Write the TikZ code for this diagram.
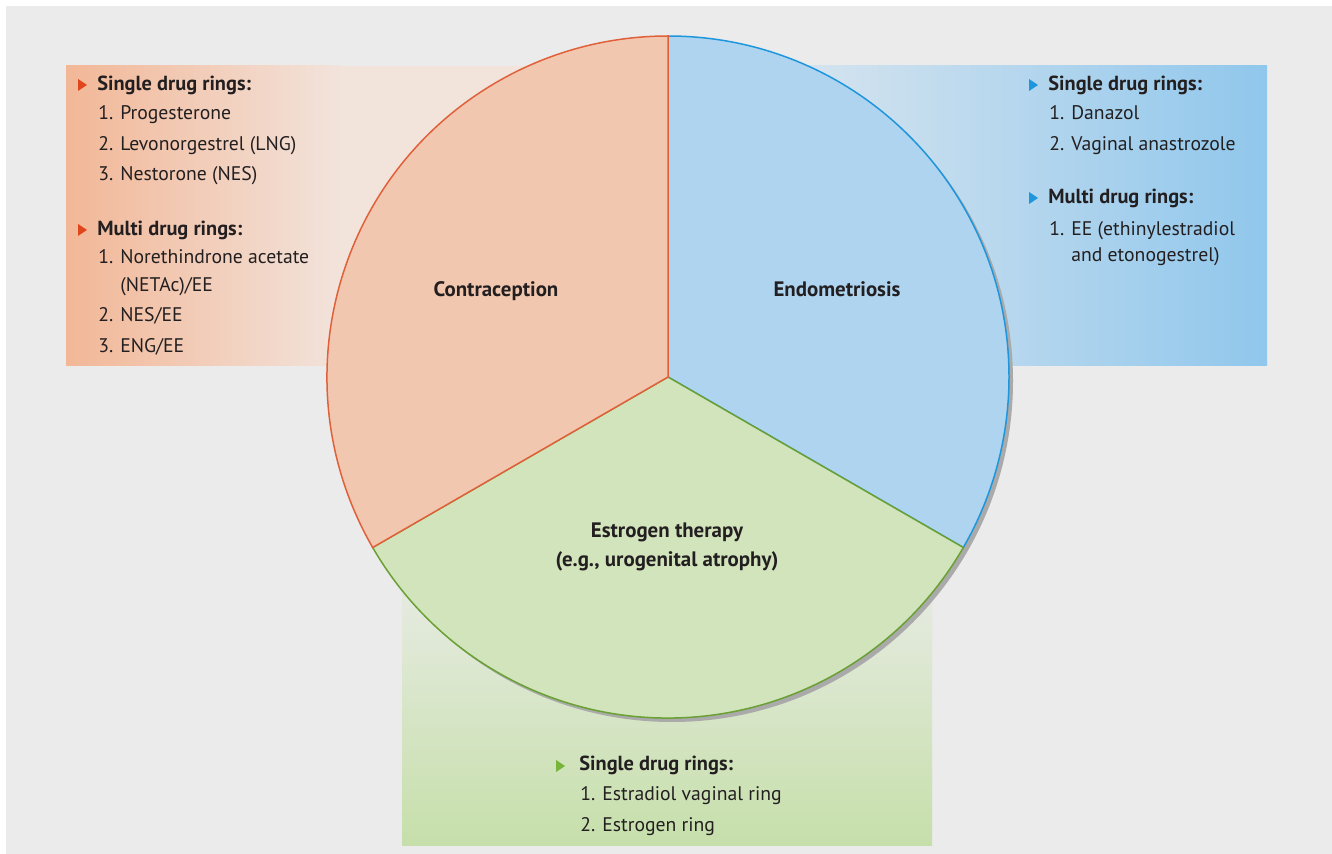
\documentclass[tikz,border=0pt]{standalone}
\usepackage{fontspec}
\setmainfont{PT Sans}
\usetikzlibrary{calc}
\definecolor{bggray}{HTML}{EAEBEA}
\definecolor{txt}{HTML}{231F20}
\definecolor{confill}{HTML}{F2C7B0}
\definecolor{conline}{HTML}{E0603A}
\definecolor{endfill}{HTML}{AED4F0}
\definecolor{endline}{HTML}{1E96DC}
\definecolor{estfill}{HTML}{D2E4BC}
\definecolor{estline}{HTML}{6AA034}
\definecolor{conbox}{HTML}{F2B797}
\definecolor{conlight}{HTML}{F2E3DB}
\definecolor{endbox}{HTML}{90C7EC}
\definecolor{endlight}{HTML}{D6E4EF}
\definecolor{estbox}{HTML}{C6DFAA}
\definecolor{estlight}{HTML}{E7EBE3}
\definecolor{conmark}{HTML}{E0461C}
\definecolor{endmark}{HTML}{1E96DC}
\definecolor{estmark}{HTML}{76B43A}
\definecolor{shadowgray}{HTML}{A9AAA9}
\tikzset{
  head/.style={anchor=base west,inner sep=0,text=txt,font=\bfseries\fontsize{11.6}{13}\selectfont},
  item/.style={anchor=base west,inner sep=0,text=txt,font=\fontsize{11.2}{13}\selectfont},
  label/.style={anchor=base,inner sep=0,text=txt,font=\bfseries\fontsize{11.9}{13}\selectfont},
}
\begin{document}
\begin{tikzpicture}[x=0.02cm,y=-0.02cm]
\useasboundingbox (0,0) rectangle (1332,854);
\fill[white] (0,0) rectangle (1332,854);
\fill[bggray] (6,6) rectangle (1332,854);
% side boxes
\fill[conlight] (66,66) rectangle (668,366);
\shade[left color=conbox,right color=conlight] (66,66) rectangle (340,366);
\fill[endlight] (668,66) rectangle (1267,366);
\shade[left color=endlight,right color=endbox] (800,66) rectangle (1267,366);
\fill[estlight] (402,377) rectangle (932,845);
\shade[top color=estlight,bottom color=estbox] (402,580) rectangle (932,845);
% pie
\coordinate (c) at (668,377);
\fill[shadowgray] ($(c)+(4,4)$) circle[radius=341];
\filldraw[fill=endfill,draw=endline,line width=0.85pt] (c) -- +(270:341) arc[start angle=270,end angle=390,radius=341] -- cycle;
\filldraw[fill=estfill,draw=estline,line width=0.85pt] (c) -- +(30:341) arc[start angle=30,end angle=150,radius=341] -- cycle;
\filldraw[fill=confill,draw=conline,line width=0.85pt] (c) -- +(150:341) arc[start angle=150,end angle=270,radius=341] -- cycle;
\node[label] (con) at (496,297) {Contraception};
\node[label] (endo) at (837,297) {Endometriosis};
\node[label] (est) at (667,538) {Estrogen therapy};
\node[label] (est2) at (667,566) {(e.g., urogenital atrophy)};
% markers
\foreach \x/\y/\c in {78/85/conmark,78/230/conmark,1029/85/endmark,1029/198/endmark,556/766/estmark}{
  \fill[\c] (\x,\y-6) -- (\x+9,\y) -- (\x,\y+6) -- cycle;}
% left lists
\node[head] (lsh) at (97,90.7) {Single drug rings:};
\foreach \n/\t/\y in {1/Progesterone/120,2/Levonorgestrel (LNG)/150.7,3/Nestorone (NES)/180.7}{
  \node[item] (lsn\n) at (98,\y) {\n.};
  \node[item] (lst\n) at (120,\y) {\t};}
\node[head] (lmh) at (97,236) {Multi drug rings:};
\foreach \n/\y in {1/264,2/321.7,3/352.7}{
  \node[item] (lmn\n) at (98,\y) {\n.};}
\node[item] (lmt1) at (120,264) {Norethindrone acetate};
\node[item] (lmt1b) at (120,291.7) {(NETAc)/EE};
\node[item] (lmt2) at (120,321.7) {NES/EE};
\node[item] (lmt3) at (120,352.7) {ENG/EE};
% right lists
\node[head] (rsh) at (1048,90.7) {Single drug rings:};
\foreach \n/\t/\y in {1/Danazol/120,2/Vaginal anastrozole/150.7}{
  \node[item] (rsn\n) at (1049,\y) {\n.};
  \node[item] (rst\n) at (1071,\y) {\t};}
\node[head] (rmh) at (1048,204) {Multi drug rings:};
\node[item] (rmn1) at (1049,235.7) {1.};
\node[item] (rmt1) at (1071,235.7) {EE (ethinylestradiol};
\node[item] (rmt1b) at (1071,261.7) {and etonogestrel)};
% bottom list
\node[head] (bsh) at (579,770.7) {Single drug rings:};
\foreach \n/\t/\y in {1/Estradiol vaginal ring/800.7,2/Estrogen ring/831.7}{
  \node[item] (bsn\n) at (580,\y) {\n.};
  \node[item] (bst\n) at (602,\y) {\t};}
\end{tikzpicture}
\end{document}
